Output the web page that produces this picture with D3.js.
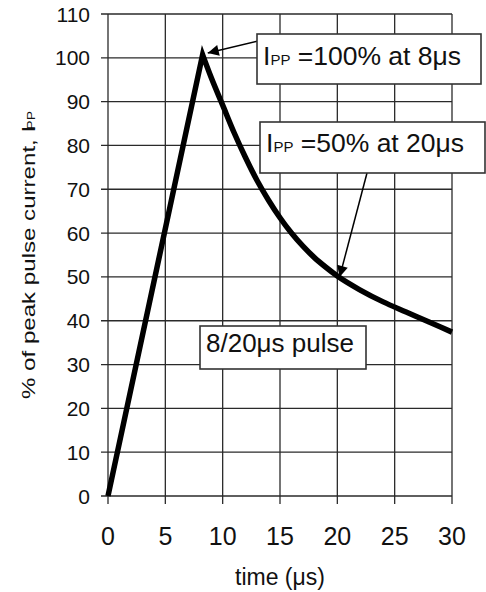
<!DOCTYPE html>
<html>
<head>
<meta charset="utf-8">
<script src="https://cdn.jsdelivr.net/npm/d3@7"></script>
<style>
  html, body { margin: 0; padding: 0; background: #fff; }
  svg { display: block; font-family: "Liberation Sans", Arial, sans-serif; }
</style>
</head>
<body>
<svg id="chart" width="486" height="592"></svg>
<script>
// ---- data ----
const riseTime   = [0, 8.25];
const riseValue  = [0, 100.7];
const decayTime  = [8.25, 9, 10, 11, 12, 13, 14, 15, 16, 17, 18, 19, 20, 22, 24, 26, 28, 30];
const decayValue = [100.7, 95.5, 89.2, 82.9, 77.2, 72.0, 67.5, 63.5, 60.0, 57.0, 54.4, 52.2, 50.2, 47.0, 44.3, 42.0, 39.7, 37.4];
const xTicks = [0, 5, 10, 15, 20, 25, 30];
const yTicks = [0, 10, 20, 30, 40, 50, 60, 70, 80, 90, 100, 110];
const xTitle = "time (μs)";
const yTitle = "% of peak pulse current, ";
const annoMain = [" =100% at 8μs", " =50% at 20μs"];
const annoTipT = [8.7, 20.2];
const annoTipV = [101.1, 50];
const pulseLabel = "8/20μs pulse";

// ---- layout ----
const svg = d3.select("#chart");
const x = d3.scaleLinear().domain([0, 30]).range([108, 452]);
const y = d3.scaleLinear().domain([0, 110]).range([496, 14]);
const gridColor = "#2a2a2a";

// horizontal grid + left ticks
const gy = svg.append("g");
gy.selectAll("line").data(yTicks).join("line")
  .attr("x1", x(0) - 7).attr("x2", x(30))
  .attr("y1", d => y(d)).attr("y2", d => y(d))
  .attr("stroke", gridColor).attr("stroke-width", 1.3);
gy.selectAll("text").data(yTicks).join("text")
  .attr("x", 90).attr("y", d => y(d)).attr("dy", "0.36em")
  .attr("text-anchor", "end").attr("font-size", 21).attr("fill", "#111")
  .text(d => d);

// vertical grid + bottom ticks
const gx = svg.append("g");
gx.selectAll("line").data(xTicks).join("line")
  .attr("x1", d => x(d)).attr("x2", d => x(d))
  .attr("y1", y(110)).attr("y2", y(0) + 8)
  .attr("stroke", gridColor).attr("stroke-width", 1.3);
gx.selectAll("text").data(xTicks).join("text")
  .attr("x", d => x(d)).attr("y", 545)
  .attr("text-anchor", "middle").attr("font-size", 25).attr("fill", "#111")
  .text(d => d);

// axis titles
svg.append("text").attr("x", x(15)).attr("y", 585)
  .attr("text-anchor", "middle").attr("font-size", 23).attr("fill", "#111")
  .text(xTitle);

const yt = svg.append("text")
  .attr("transform", `translate(35,${(y(0) + y(110)) / 2}) rotate(-90)`)
  .attr("text-anchor", "middle").attr("font-size", 19).attr("fill", "#111")
  .attr("textLength", 288).attr("lengthAdjust", "spacingAndGlyphs");
yt.append("tspan").text(yTitle + "I");
yt.append("tspan").attr("font-size", 11).attr("dx", -3).text("PP");

// curve
const risePts = riseTime.map((t, i) => [t, riseValue[i]]);
const decayPts = decayTime.map((t, i) => [t, decayValue[i]]);
const lineLin = d3.line().x(d => x(d[0])).y(d => y(d[1]));
const lineCurve = d3.line().x(d => x(d[0])).y(d => y(d[1])).curve(d3.curveMonotoneX);
const pathD = lineLin(risePts) + lineCurve(decayPts).replace(/^M/, "L");
svg.append("path").attr("d", pathD)
  .attr("fill", "none").attr("stroke", "#000").attr("stroke-width", 5.5)
  .attr("stroke-linejoin", "miter").attr("stroke-miterlimit", 10);

// arrow marker
svg.append("defs").append("marker")
  .attr("id", "ah").attr("viewBox", "0 0 10 10")
  .attr("refX", 10).attr("refY", 5)
  .attr("markerWidth", 13).attr("markerHeight", 11)
  .attr("markerUnits", "userSpaceOnUse").attr("orient", "auto")
  .append("path").attr("d", "M0,0 L10,5 L0,10 Z").attr("fill", "#000");

// annotations: boxes (layout) + arrows to data points
const boxes = [
  {x: 257, y: 34, w: 224, h: 50, tx: 263, ty: 65, start: [262, 40]},
  {x: 260, y: 122, w: 225, h: 51, tx: 266, ty: 152, start: [367, 173]}
];
boxes.forEach((b, i) => {
  svg.append("line")
    .attr("x1", b.start[0]).attr("y1", b.start[1])
    .attr("x2", x(annoTipT[i])).attr("y2", y(annoTipV[i]))
    .attr("stroke", "#000").attr("stroke-width", 1.5)
    .attr("marker-end", "url(#ah)");
  svg.append("rect").attr("x", b.x).attr("y", b.y).attr("width", b.w).attr("height", b.h)
    .attr("fill", "#fff").attr("stroke", "#333").attr("stroke-width", 1.6);
  const t = svg.append("text").attr("x", b.tx).attr("y", b.ty)
    .attr("font-size", 26.5).attr("fill", "#111");
  t.append("tspan").text("I");
  t.append("tspan").attr("font-size", 15).text("PP");
  t.append("tspan").text(annoMain[i]);
});

svg.append("rect").attr("x", 200).attr("y", 326).attr("width", 166).attr("height", 43)
  .attr("fill", "#fff").attr("stroke", "#333").attr("stroke-width", 1.6);
svg.append("text").attr("x", 206).attr("y", 352)
  .attr("font-size", 26).attr("fill", "#111").text(pulseLabel);
</script>
</body>
</html>
